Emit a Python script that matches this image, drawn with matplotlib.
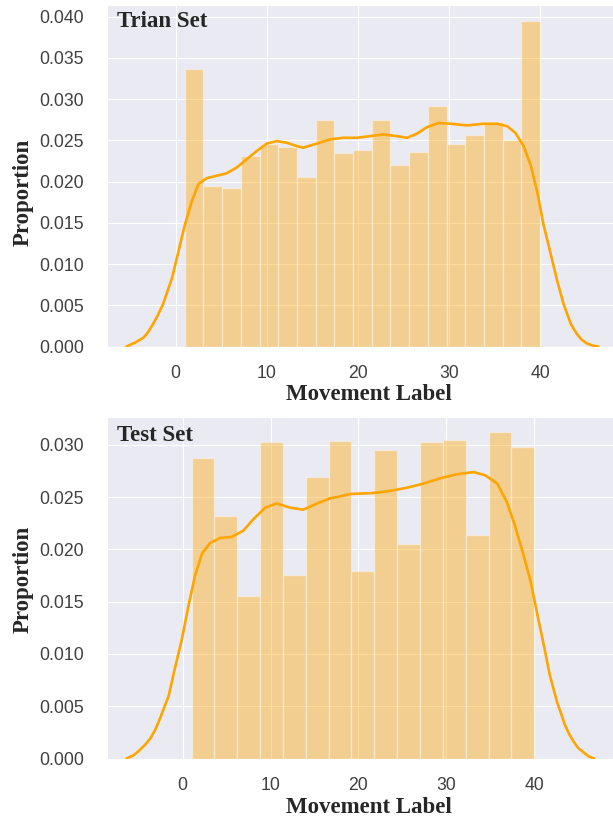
import numpy as np
import matplotlib
matplotlib.use("Agg")
import matplotlib.pyplot as plt
import seaborn as sns

# histogram heights (proportion per bin)
train_bins = (1, 40, 19)
train_heights = [0.0336, 0.0195, 0.0192, 0.0231, 0.0246, 0.0242, 0.0205, 0.0275,
                 0.0234, 0.0238, 0.0275, 0.0220, 0.0236, 0.0291, 0.0246, 0.0256,
                 0.0272, 0.0250, 0.0394]
test_bins = (1, 40, 15)
test_heights = [0.0287, 0.0232, 0.0155, 0.0303, 0.0176, 0.0269, 0.0304, 0.0179,
                0.0295, 0.0205, 0.0303, 0.0305, 0.0214, 0.0312, 0.0298]

# kde curves, read point by point
train_kde_x = [-5.4, -5.0, -4.4, -3.5, -3.0, -2.5, -2.0, -1.4, -0.4, 0.3, 1.0, 1.8,
               2.5, 3.4, 4.5, 5.6, 6.7, 7.8, 8.9, 10.0, 11.1, 12.2, 13.3, 14.0,
               15.5, 16.9, 18.4, 19.9, 21.3, 22.8, 24.3, 25.4, 26.5, 27.6, 28.9,
               30.2, 32.0, 33.8, 35.3, 36.4, 37.3, 38.2, 39.0, 39.7, 40.4, 41.2,
               41.9, 42.6, 43.4, 44.0, 44.5, 45.1, 45.8, 46.4]
train_kde_y = [0.0, 0.0002, 0.0005, 0.0011, 0.0018, 0.0027, 0.0037, 0.0051, 0.0083,
               0.0115, 0.0147, 0.0177, 0.0197, 0.0204, 0.0207, 0.0210, 0.0217,
               0.0227, 0.0237, 0.0246, 0.0249, 0.0247, 0.0243, 0.0241, 0.0246,
               0.0251, 0.0253, 0.0253, 0.0255, 0.0257, 0.0255, 0.0253, 0.0258,
               0.0266, 0.0271, 0.0270, 0.0268, 0.0270, 0.0270, 0.0267, 0.0259,
               0.0243, 0.0219, 0.0187, 0.0147, 0.0111, 0.0079, 0.0051, 0.0027,
               0.0016, 0.0009, 0.0004, 0.0001, 0.0]

test_kde_x = [-6.4, -5.6, -4.9, -4.3, -3.7, -3.1, -2.6, -1.6, -0.9, -0.1, 0.65, 1.4,
              2.2, 3.1, 4.25, 5.6, 6.9, 8.05, 9.4, 10.7, 12.2, 13.7, 15.3, 16.8,
              17.5, 19.05, 21.7, 23.6, 25.5, 27.4, 29.3, 31.2, 33.1, 34.4, 35.8,
              36.9, 37.8, 38.8, 39.6, 40.3, 41.1, 41.8, 42.6, 43.5, 44.0, 44.5,
              45.0, 45.6, 46.2, 46.8]
test_kde_y = [0.0, 0.0003, 0.0008, 0.0013, 0.0019, 0.0028, 0.0038, 0.0060, 0.0086,
              0.0114, 0.0146, 0.0175, 0.0196, 0.0206, 0.0211, 0.0212, 0.0218,
              0.0229, 0.0240, 0.0244, 0.0240, 0.0238, 0.0244, 0.0249, 0.0250,
              0.0253, 0.0254, 0.0256, 0.0259, 0.0263, 0.0268, 0.0272, 0.0274,
              0.0271, 0.0263, 0.0245, 0.0223, 0.0194, 0.0169, 0.0140, 0.0108,
              0.0079, 0.0054, 0.0032, 0.0023, 0.0016, 0.0010, 0.0006, 0.0002, 0.0]

x_ticks = [0, 10, 20, 30, 40]

sns.set_style("darkgrid")
plt.rcParams['font.family'] = ['Liberation Sans', 'DejaVu Sans']

W, H = 613, 817
fig = plt.figure(figsize=(W / 100, H / 100), dpi=100)

label_font = dict(family=['Liberation Serif', 'DejaVu Serif'], weight='bold', size=16.5)
orange = '#FFA500'


def px_axes(left, top, right, bottom):
    return [left / W, 1 - bottom / H, (right - left) / W, (bottom - top) / H]


def draw_panel(ax, bins, heights, kx, ky, title, xlim, ylim, yticks, ylab_y, title_y, xlab_y):
    edges = np.linspace(bins[0], bins[1], bins[2] + 1)
    ax.bar(edges[:-1], heights, width=np.diff(edges), align='edge',
           color=orange, edgecolor='white', linewidth=1, alpha=0.4)
    ax.plot(kx, ky, color=orange, lw=1.9)
    ax.set_xlim(*xlim)
    ax.set_ylim(*ylim)
    ax.set_xticks(x_ticks)
    ax.set_yticks(yticks)
    ax.set_yticklabels(['%.3f' % v for v in yticks])
    ax.tick_params(axis='x', labelsize=12.7, pad=9.5, colors='.25')
    ax.tick_params(axis='y', labelsize=12.7, pad=13, colors='.25')
    ax.set_xlabel('Movement Label', **label_font)
    ax.set_ylabel('Proportion', **label_font)
    ax.xaxis.set_label_coords(0.5, xlab_y)
    ax.yaxis.set_label_coords(-0.1405, ylab_y)
    ax.text(0.0185, title_y, title, transform=ax.transAxes, va='baseline',
            ha='left', **label_font)


ax1 = fig.add_axes(px_axes(107, 5, 630, 346.5))
draw_panel(ax1, train_bins, train_heights, train_kde_x, train_kde_y, 'Trian Set',
           (-7.54, 49.88), (0, 0.0414), np.arange(0, 0.0401, 0.005), 0.451, 0.9347, -0.11)

ax2 = fig.add_axes(px_axes(107, 417, 630, 758.5))
draw_panel(ax2, test_bins, test_heights, test_kde_x, test_kde_y, 'Test Set',
           (-8.62, 50.9), (0, 0.03267), np.arange(0, 0.0301, 0.005), 0.5256, 0.9306, -0.112)

fig.savefig('out.png', dpi=100)
